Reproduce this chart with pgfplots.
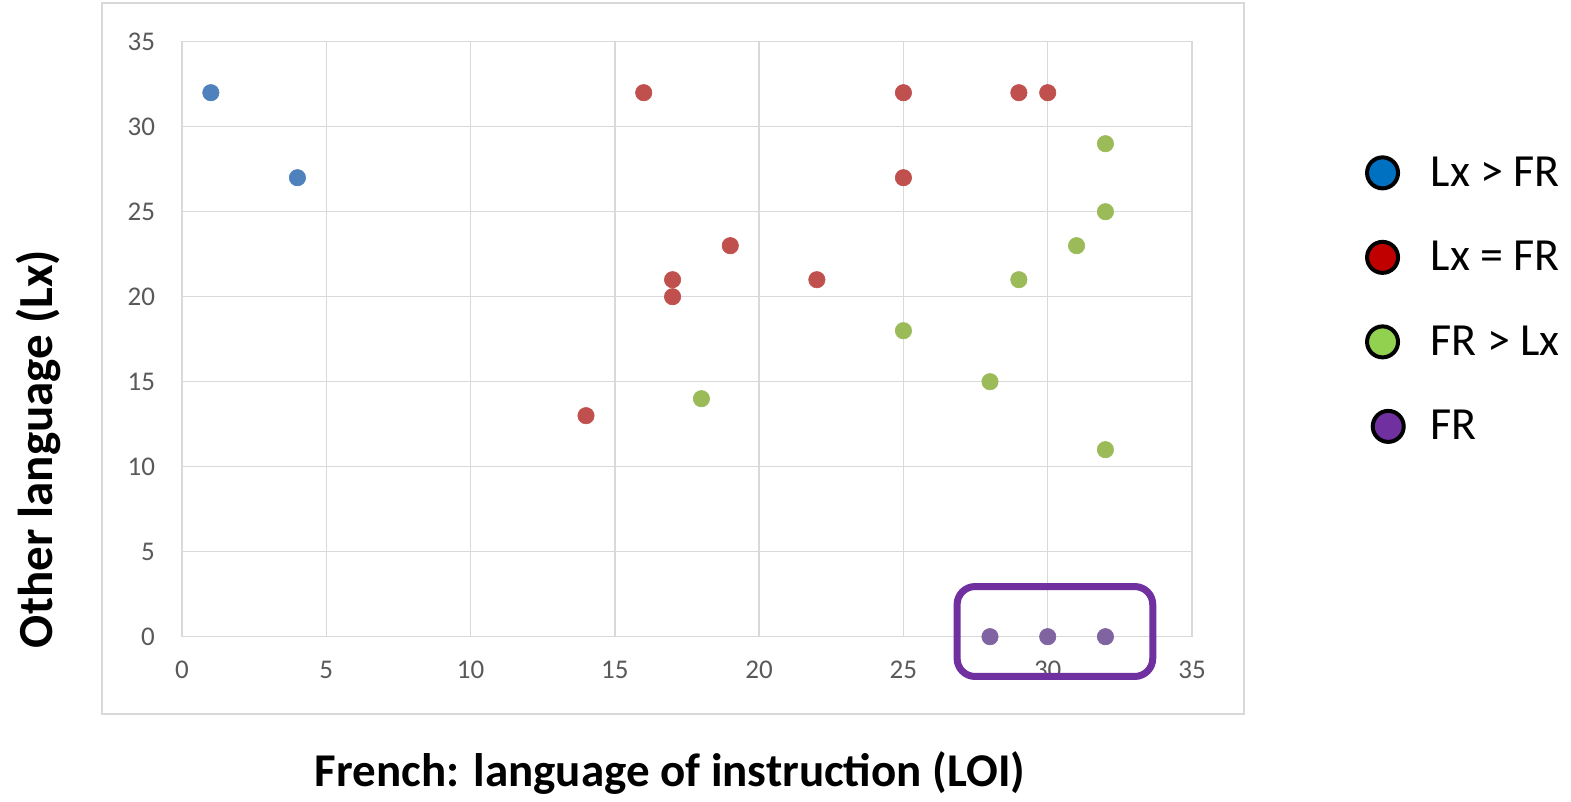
\documentclass[border=0pt]{standalone}
\usepackage{pgfplots}
\pgfplotsset{compat=1.18}
\usepackage{fontspec}
\setmainfont{Carlito}
\definecolor{gridgray}{HTML}{D9D9D9}
\definecolor{ticklab}{HTML}{595959}
\definecolor{sblue}{HTML}{4F81BD}
\definecolor{sred}{HTML}{C0504D}
\definecolor{sgreen}{HTML}{9BBB59}
\definecolor{spurple}{HTML}{8064A2}
\definecolor{lblue}{HTML}{0070C0}
\definecolor{lred}{HTML}{C00000}
\definecolor{lgreen}{HTML}{92D050}
\definecolor{lpurple}{HTML}{7030A0}
\begin{document}
\begin{tikzpicture}
\useasboundingbox (0,0) rectangle (785.5pt,401pt);
\draw[gridgray, line width=0.8pt] (51pt,44pt) rectangle (622pt,399.5pt);
\begin{axis}[
  at={(91pt,82.65pt)}, anchor=south west,
  scale only axis, width=505pt, height=297.5pt,
  xmin=0, xmax=35, ymin=0, ymax=35,
  xtick={0,5,...,35}, ytick={0,5,...,35},
  grid=major, grid style={gridgray, line width=0.75pt},
  axis line style={gridgray, line width=0.75pt},
  major tick length=0pt,
  tick label style={font=\fontsize{13.5}{16}\selectfont, text=ticklab},
  /pgf/number format/assume math mode=true,
  yticklabel style={xshift=-10pt},
  xticklabel style={yshift=-8.5pt},
  clip=false,
  legend style={at={(1.165,0.821)}, anchor=north west, draw=none, fill=none,
    font=\fontsize{23}{27}\selectfont, row sep=22pt,
    legend cell align=left},
]
\addplot[only marks, mark=*, mark size=4.1pt, color=sblue, mark options={line width=0.3pt}, forget plot]
  coordinates {(1,32) (4,27)};
\addplot[only marks, mark=*, mark size=4.1pt, color=sred, mark options={line width=0.3pt}, forget plot]
  coordinates {(16,32) (25,32) (29,32) (30,32) (25,27) (19,23) (17,21) (17,20) (22,21) (14,13)};
\addplot[only marks, mark=*, mark size=4.1pt, color=sgreen, mark options={line width=0.3pt}, forget plot]
  coordinates {(32,29) (32,25) (31,23) (29,21) (25,18) (28,15) (18,14) (32,11)};
\addplot[only marks, mark=*, mark size=4.1pt, color=spurple, mark options={line width=0.3pt}, forget plot]
  coordinates {(28,0) (30,0) (32,0)};
\draw[lpurple, line width=3.5pt, rounded corners=9pt]
  (axis cs:26.86,-2.34) rectangle (axis cs:33.64,2.95);
\addlegendimage{legend image code/.code={\filldraw[fill=lblue, draw=black, line width=2pt] (0.3cm,0pt) circle (7.75pt);}}
\addlegendentry{\hspace*{10.5pt}Lx > FR}
\addlegendimage{legend image code/.code={\filldraw[fill=lred, draw=black, line width=2pt] (0.3cm,0pt) circle (7.75pt);}}
\addlegendentry{\hspace*{10.5pt}Lx = FR}
\addlegendimage{legend image code/.code={\filldraw[fill=lgreen, draw=black, line width=2pt] (0.3cm,0pt) circle (7.75pt);}}
\addlegendentry{\hspace*{10.5pt}FR > Lx}
\addlegendimage{legend image code/.code={\filldraw[fill=lpurple, draw=black, line width=2pt] (0.4cm,0pt) circle (7.75pt);}}
\addlegendentry{\hspace*{10.5pt}FR}
\end{axis}
\node[rotate=90, font=\bfseries\fontsize{24.5}{29}\selectfont] at (19pt,176.5pt) {Other language (Lx)};
\node[font=\bfseries\fontsize{23.5}{28}\selectfont] at (335pt,14.5pt) {French: language of instruction (LOI)};
\end{tikzpicture}
\end{document}
